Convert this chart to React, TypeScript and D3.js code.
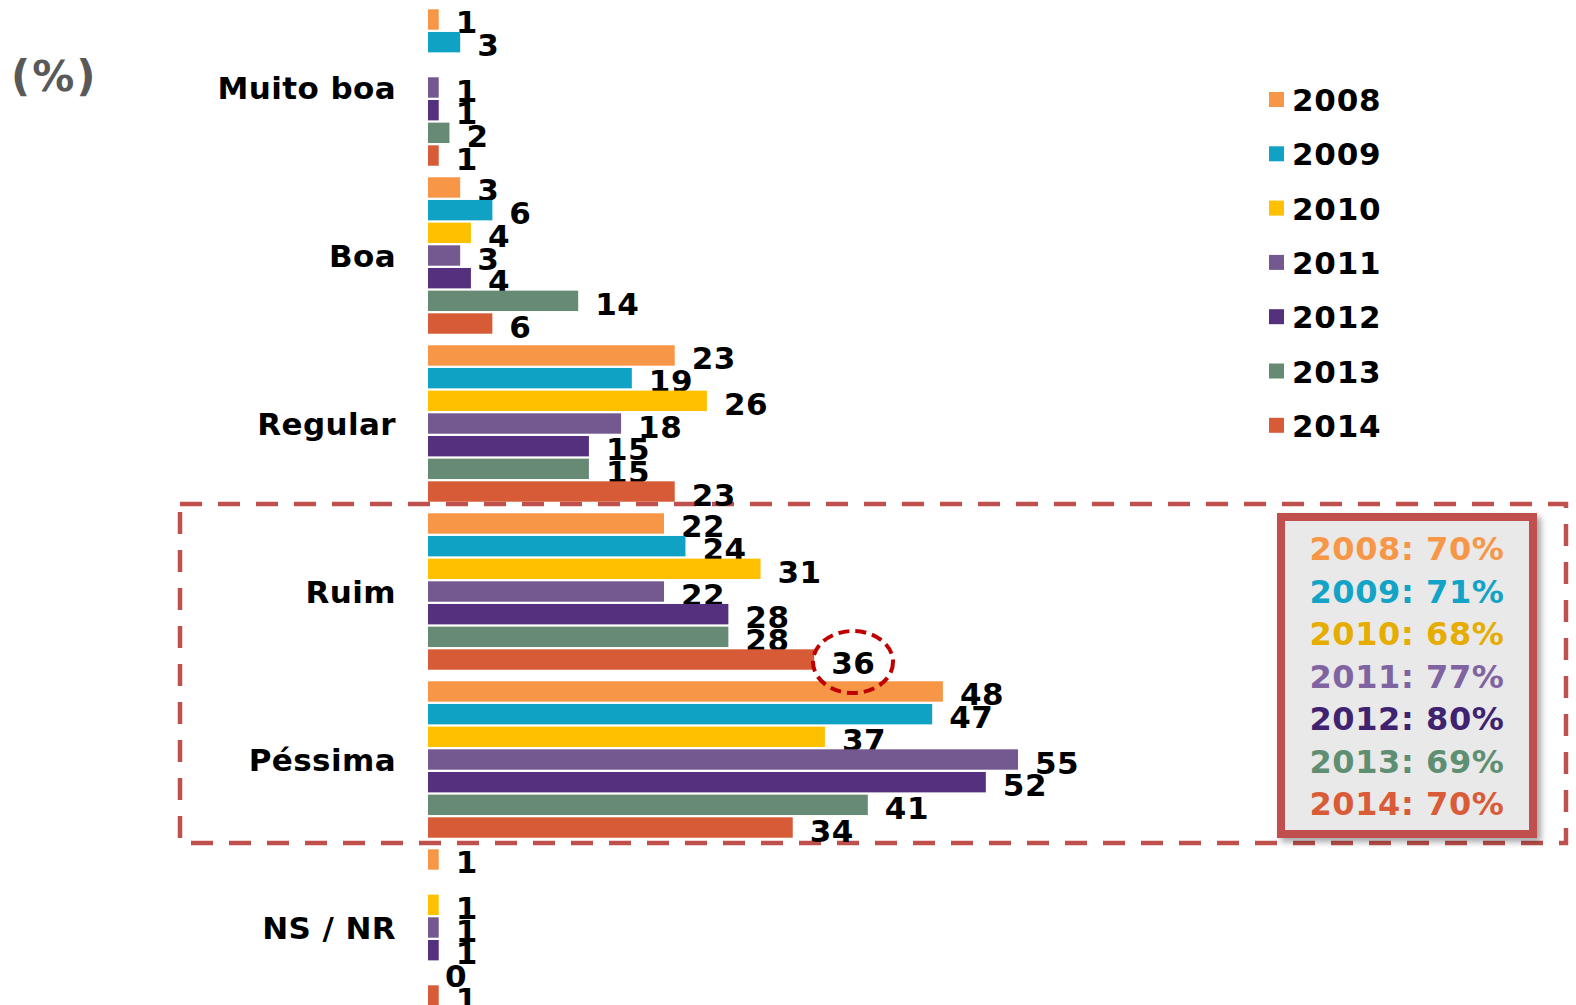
import React, { useEffect, useRef } from "react";
import * as d3 from "d3";

const categories = ["Muito boa", "Boa", "Regular", "Ruim", "Péssima", "NS / NR"];
const years = ["2008", "2009", "2010", "2011", "2012", "2013", "2014"];

// values per year, in category order (null = no bar, no label)
const v2008 = [1, 3, 23, 22, 48, 1];
const v2009 = [3, 6, 19, 24, 47, null];
const v2010 = [null, 4, 26, 31, 37, 1];
const v2011 = [1, 3, 18, 22, 55, 1];
const v2012 = [1, 4, 15, 28, 52, 1];
const v2013 = [2, 14, 15, 28, 41, 0];
const v2014 = [1, 6, 23, 36, 34, 1];

const barColors = ["#f79646", "#0fa2c4", "#ffc000", "#745890", "#54307f", "#668a74", "#d75b37"];
const boxColors = ["#f79646", "#13a3c6", "#e6ac00", "#8064a2", "#3f2370", "#5f8f72", "#d95b37"];

// "Ruim + Péssima" totals shown in the box
const badTotals = ["70%", "71%", "68%", "77%", "80%", "69%", "70%"];

const FONT = "'DejaVu Sans', Verdana, sans-serif";

const App: React.FC = () => {
  const svgRef = useRef<SVGSVGElement>(null);

  useEffect(() => {
    if (!svgRef.current) return;
    const svg = d3.select(svgRef.current);
    svg.selectAll("*").remove();

    const width = 1576;
    const height = 1005;
    svg.attr("width", width).attr("height", height);

    const series = [v2008, v2009, v2010, v2011, v2012, v2013, v2014];

    const x = d3.scaleLinear().domain([0, 55]).range([428, 1018]);
    const y0 = d3.scaleBand().domain(categories).range([3.5, 3.5 + 168 * 6]).padding(0);
    const y1 = d3
      .scaleBand()
      .domain(years)
      .range([0, y0.bandwidth()])
      .paddingInner(0.1)
      .paddingOuter(0.255);

    const defs = svg.append("defs");
    const f = defs.append("filter").attr("id", "shadow").attr("x", "-10%").attr("y", "-10%")
      .attr("width", "130%").attr("height", "130%");
    f.append("feDropShadow").attr("dx", 4).attr("dy", 4).attr("stdDeviation", 3)
      .attr("flood-color", "#000").attr("flood-opacity", 0.35);

    // "(%)"
    svg.append("text")
      .attr("x", 11).attr("y", 91)
      .attr("font-family", FONT).attr("font-weight", "bold").attr("font-size", 42)
      .attr("letter-spacing", 2)
      .attr("fill", "#595959")
      .text("(%)");

    // category labels
    svg.append("g")
      .selectAll("text")
      .data(categories)
      .join("text")
      .attr("x", 396)
      .attr("y", (d) => (y0(d) as number) + y0.bandwidth() / 2 + 11)
      .attr("text-anchor", "end")
      .attr("font-family", FONT).attr("font-weight", "bold").attr("font-size", 31)
      .attr("letter-spacing", 0.4)
      .attr("fill", "#000")
      .text((d) => d);

    // dashed box around Ruim + Péssima
    svg.append("rect")
      .attr("x", 180).attr("y", 504).attr("width", 1386).attr("height", 339)
      .attr("fill", "none").attr("stroke", "#c0504d").attr("stroke-width", 4.5)
      .attr("stroke-dasharray", "22 16");

    // bars + labels
    series.forEach((vals, si) => {
      const yr = years[si];
      const g = svg.append("g");
      const pts = categories
        .map((c, ci) => ({ c, v: vals[ci] }))
        .filter((d) => d.v !== null) as { c: string; v: number }[];

      g.selectAll("rect")
        .data(pts.filter((d) => d.v > 0))
        .join("rect")
        .attr("x", x(0))
        .attr("y", (d) => (y0(d.c) as number) + (y1(yr) as number))
        .attr("width", (d) => x(d.v) - x(0))
        .attr("height", y1.bandwidth())
        .attr("fill", barColors[si]);

      g.selectAll("text")
        .data(pts)
        .join("text")
        .attr("x", (d) => x(d.v) + 17)
        .attr("y", (d) => (y0(d.c) as number) + (y1(yr) as number) + y1.bandwidth() / 2 + 14)
        .attr("font-family", FONT).attr("font-weight", "bold").attr("font-size", 31)
        .attr("letter-spacing", 0.5)
        .attr("fill", "#000")
        .text((d) => d.v);
    });

    // dashed ellipse around the 2014 "Ruim" label
    svg.append("ellipse")
      .attr("cx", 853).attr("cy", 662).attr("rx", 40).attr("ry", 31)
      .attr("fill", "none").attr("stroke", "#c00000").attr("stroke-width", 4)
      .attr("stroke-dasharray", "11 6");

    // legend
    const legend = svg.append("g");
    years.forEach((yr, i) => {
      const cy = 99.5 + i * 54.3;
      legend.append("rect")
        .attr("x", 1269).attr("y", cy - 7.5).attr("width", 15).attr("height", 15)
        .attr("fill", barColors[i]);
      legend.append("text")
        .attr("x", 1292).attr("y", cy + 11.5)
        .attr("font-family", FONT).attr("font-weight", "bold").attr("font-size", 31)
        .attr("letter-spacing", 0.8)
        .attr("fill", "#000")
        .text(yr);
    });

    // totals box
    svg.append("rect")
      .attr("x", 1281).attr("y", 517).attr("width", 252).attr("height", 317)
      .attr("fill", "#e9e9e9").attr("stroke", "#c0504d").attr("stroke-width", 8)
      .attr("filter", "url(#shadow)");
    years.forEach((yr, i) => {
      svg.append("text")
        .attr("x", 1407).attr("y", 560 + i * 42.5)
        .attr("text-anchor", "middle")
        .attr("font-family", FONT).attr("font-weight", "bold").attr("font-size", 32)
        .attr("letter-spacing", 0.6)
        .attr("fill", boxColors[i])
        .text(`${yr}: ${badTotals[i]}`);
    });
  }, []);

  return (
    <svg
      ref={svgRef}
      style={{ position: "absolute", left: 0, top: 0, background: "#fff" }}
    ></svg>
  );
};

export default App;
